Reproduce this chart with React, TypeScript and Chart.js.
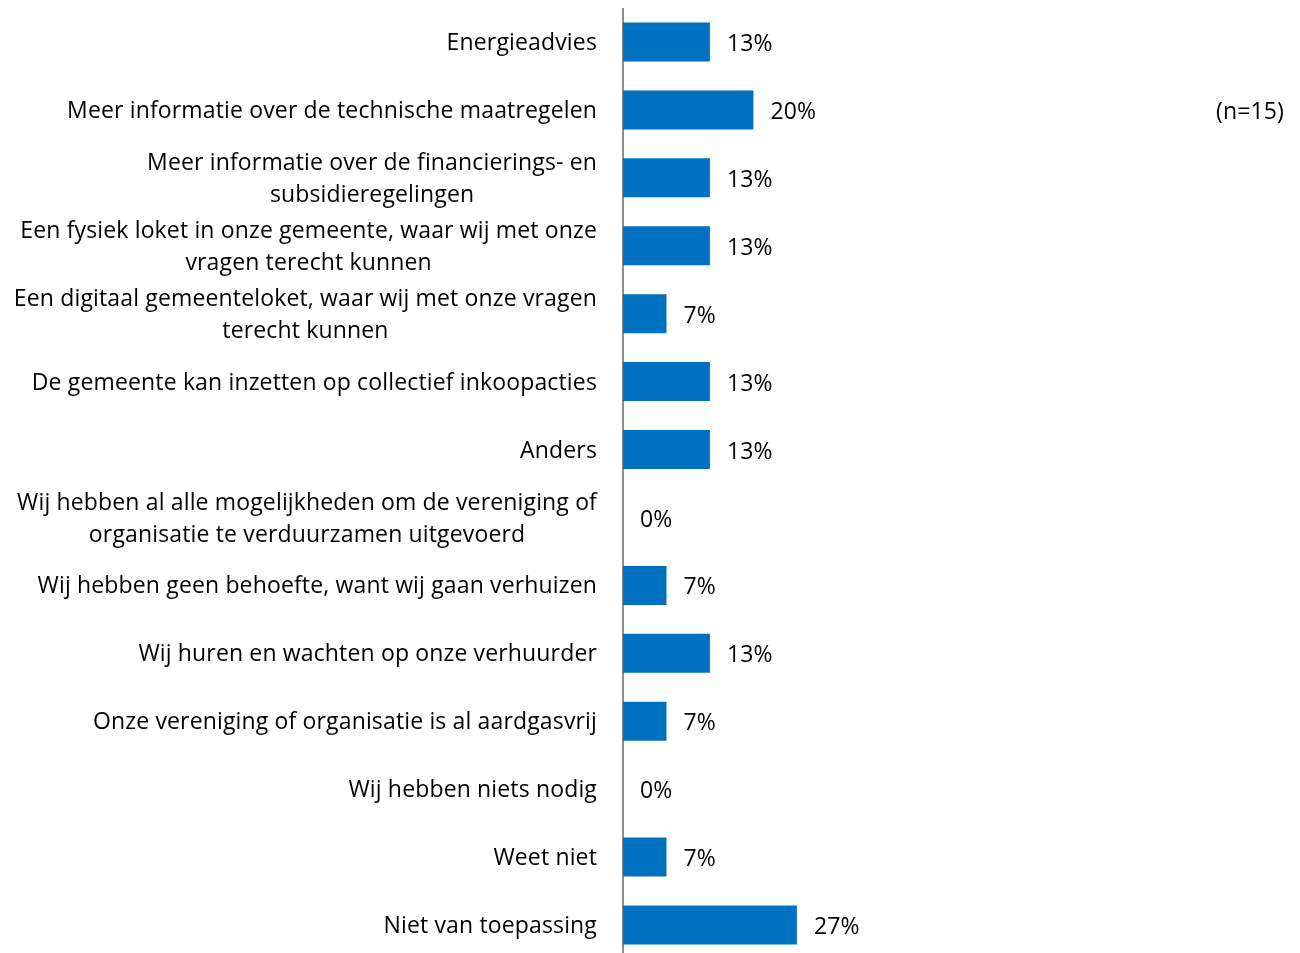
import React, { useEffect, useRef } from "react";
import { Chart, registerables } from "chart.js";

Chart.register(...registerables);

const categories: string[][] = [
  ["Energieadvies"],
  ["Meer informatie over de technische maatregelen"],
  ["Meer informatie over de financierings- en", "subsidieregelingen"],
  ["Een fysiek loket in onze gemeente, waar wij met onze", "vragen terecht kunnen"],
  ["Een digitaal gemeenteloket, waar wij met onze vragen", "terecht kunnen"],
  ["De gemeente kan inzetten op collectief inkoopacties"],
  ["Anders"],
  ["Wij hebben al alle mogelijkheden om de vereniging of", "organisatie te verduurzamen uitgevoerd"],
  ["Wij hebben geen behoefte, want wij gaan verhuizen"],
  ["Wij huren en wachten op onze verhuurder"],
  ["Onze vereniging of organisatie is al aardgasvrij"],
  ["Wij hebben niets nodig"],
  ["Weet niet"],
  ["Niet van toepassing"],
];

const values: number[] = [13.33, 20, 13.33, 13.33, 6.67, 13.33, 13.33, 0, 6.67, 13.33, 6.67, 0, 6.67, 26.67];
const valueLabels: string[] = ["13%", "20%", "13%", "13%", "7%", "13%", "13%", "0%", "7%", "13%", "7%", "0%", "7%", "27%"];
const sampleNote = "(n=15)";

const FONT = "'Open Sans', sans-serif";
const FONT_SIZE = 23;
const LINE_H = 32;
const AXIS_W = 615;

const labelPlugin = {
  id: "customLabels",
  afterDraw(chart: any) {
    const ctx = chart.ctx;
    const yScale = chart.scales.y;
    const meta = chart.getDatasetMeta(0);
    ctx.save();
    ctx.font = `${FONT_SIZE}px ${FONT}`;
    try {
      ctx.letterSpacing = "0.15px";
    } catch (e) {}
    ctx.fillStyle = "#000000";
    ctx.textBaseline = "middle";
    categories.forEach((lines, i) => {
      const cy = yScale.getPixelForValue(i) + 1.5;
      const maxW = Math.max(...lines.map((l) => ctx.measureText(l).width));
      const right = chart.chartArea.left - 26;
      const cx = right - maxW / 2;
      ctx.textAlign = "center";
      const n = lines.length;
      lines.forEach((l, j) => {
        const y = cy + (j - (n - 1) / 2) * LINE_H;
        ctx.fillText(l, cx, y);
      });
    });
    ctx.textAlign = "left";
    meta.data.forEach((bar: any, i: number) => {
      ctx.fillText(valueLabels[i], bar.x + 17, bar.y + 2.5);
    });
    ctx.textAlign = "right";
    ctx.fillText(sampleNote, chart.width - 8, yScale.getPixelForValue(1) + 3);
    ctx.restore();
  },
};

export default function App() {
  const ref = useRef<HTMLCanvasElement | null>(null);
  useEffect(() => {
    if (!ref.current) return;
    const chart = new Chart(ref.current, {
      type: "bar",
      data: {
        labels: categories.map((c) => c.join(" ")),
        datasets: [
          {
            data: values,
            backgroundColor: "#0070C0",
            borderWidth: 0,
            barPercentage: 0.574,
            categoryPercentage: 1,
          },
        ],
      },
      options: {
        indexAxis: "y",
        animation: false,
        responsive: true,
        maintainAspectRatio: false,
        layout: { padding: { top: 0, bottom: 0, left: 0, right: 17 } },
        plugins: {
          legend: { display: false },
          tooltip: { enabled: false },
        },
        scales: {
          x: {
            display: false,
            min: 0,
            max: 100,
          },
          y: {
            grid: { display: false, drawTicks: false },
            border: { display: true, color: "#8c8c8c", width: 2 },
            ticks: { display: false },
            afterFit(scale: any) {
              scale.width = AXIS_W;
            },
          },
        },
      },
      plugins: [labelPlugin],
    } as any);
    return () => chart.destroy();
  }, []);
  return (
    <div style={{ width: 1284, height: 951, position: "relative" }}>
      <canvas ref={ref} />
    </div>
  );
}
